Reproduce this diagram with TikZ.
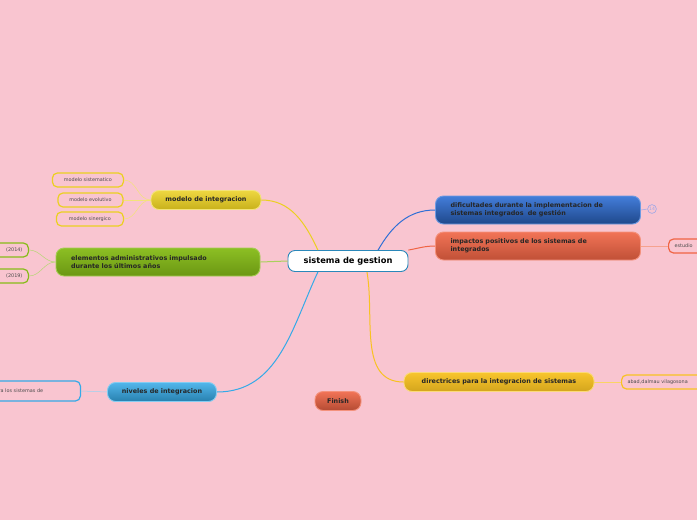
\documentclass[tikz,border=0pt]{standalone}
\usepackage{fontspec}
\setmainfont{DejaVu Sans}
\usetikzlibrary{positioning}
\definecolor{bgpink}{HTML}{F9C5D0}
\definecolor{ylw}{HTML}{EBD020}
\definecolor{grn}{HTML}{86BC18}
\definecolor{sky}{HTML}{34AAE8}
\definecolor{navy}{HTML}{2F6FD6}
\definecolor{rust}{HTML}{F06444}
\definecolor{amber}{HTML}{F8C222}
\definecolor{lav}{HTML}{9AA6E8}
\tikzset{
  topic/.style={draw, rounded corners=8pt, font=\bfseries\fontsize{6.4}{7.6}\selectfont, text=black!85,
                inner xsep=10pt, inner ysep=2pt, minimum height=19pt, line width=0.9pt},
  wide/.style={text width=#1, align=left, minimum height=28pt, inner xsep=15pt},
  sub/.style={draw=#1, rounded corners=5pt, font=\fontsize{4.9}{5.8}\selectfont, text=black!70,
              minimum height=14pt, inner xsep=6pt, line width=1.2pt},
  trunk/.style={draw=#1, line width=1pt},
  twig/.style={draw=#1, line width=0.5pt}
}
\begin{document}
\begin{tikzpicture}[x=1pt, y=-1pt]
\fill[bgpink] (0,0) rectangle (697,520);
\useasboundingbox (0,0) rectangle (697,520);
% center and main topics
\node[draw=sky!80!black, fill=white, rounded corners=7pt, line width=0.9pt, font=\bfseries\fontsize{8.3}{9}\selectfont,
      minimum width=120pt, minimum height=21pt] (gestion) at (348,261) {sistema de gestion};
\node[topic, top color=ylw!85!white, bottom color=ylw!85!black, draw=ylw!60!white, minimum width=110pt] (modelo) at (206,200) {modelo de integracion};
\node[topic, wide=174pt, top color=grn!95!white, bottom color=grn!80!black, draw=grn!75!white] (elementos) at (158,262) {elementos administrativos impulsado\\durante los últimos años};
\node[topic, top color=sky!85!white, bottom color=sky!75!black, draw=sky!60!white, minimum width=109pt] (niveles) at (162,392) {niveles de integracion};
\node[topic, wide=175pt, top color=navy!90!white, bottom color=navy!65!black, draw=navy!70!white] (dificultades) at (538,210) {dificultades durante la implementacion de\\sistemas integrados \ de gestión};
\node[topic, wide=175pt, top color=rust!90!white, bottom color=rust!80!black, draw=rust!70!white] (impactos) at (538,246) {impactos positivos de los sistemas de\\integrados};
\node[topic, top color=amber!95!white, bottom color=amber!85!black, draw=amber!60!white, minimum width=190pt] (directrices) at (499,382) {directrices para la integracion de sistemas};
\node[topic, top color=rust!90!white, bottom color=rust!75!black, draw=rust!70!white, minimum width=46pt, inner xsep=4pt] (finish) at (338,401) {Finish};
% sub topics
\node[sub=ylw, minimum width=65pt, left=27pt of modelo] (evolutivo) {modelo evolutivo};
\node[sub=ylw, minimum width=71pt, anchor=east] (sistematico) at (124,180) {modelo sistematico};
\node[sub=ylw, minimum width=67pt, anchor=east] (sinergico) at (124,219) {modelo sinergico};
\node[sub=grn, text width=50pt, align=right, anchor=east] (y2014) at (29,250) {(2014)};
\node[sub=grn, text width=50pt, align=right, anchor=east] (y2019) at (29,276) {(2019)};
\node[sub=sky, text width=82pt, align=left, minimum height=20pt, anchor=east] (nivdesc) at (81,391) {para los sistemas de};
\node[sub=rust, text width=60pt, align=left, anchor=west] (estudio) at (668,246) {estudio};
\node[sub=amber, text width=90pt, align=left, anchor=west] (abad) at (621,382) {abad,dalmau vilagosona};
\node[draw=lav, circle, line width=0.6pt, inner sep=0.8pt, text=lav, font=\fontsize{4.5}{5}\selectfont] (cnt) at (652,209) {14};
% trunks
\draw[trunk=ylw] (gestion.160) to[out=115, in=0] (modelo.east);
\draw[trunk=grn!70!white] (gestion.west) -- (elementos.east);
\draw[trunk=sky] (gestion.200) to[out=245, in=0] (niveles.east);
\draw[trunk=navy] (gestion.20) to[out=60, in=180] (dificultades.west);
\draw[trunk=rust] (gestion.north east) to[out=10, in=180] (impactos.west);
\draw[trunk=amber] (gestion.-30) to[out=-80, in=180] (directrices.west);
% twigs
\draw[twig=ylw!60!white] (modelo.west) to[out=180, in=0] (sistematico.east);
\draw[twig=ylw!60!white] (modelo.west) -- (evolutivo.east);
\draw[twig=ylw!60!white] (modelo.west) to[out=180, in=0] (sinergico.east);
\draw[twig=grn!60!white] (elementos.west) to[out=180, in=0] (y2014.east);
\draw[twig=grn!60!white] (elementos.west) to[out=180, in=0] (y2019.east);
\draw[twig=sky!50!white] (niveles.west) -- (nivdesc.east);
\draw[twig=rust!60!white] (impactos.east) -- (estudio.west);
\draw[twig=amber!70!white] (directrices.east) -- (abad.west);
\draw[twig=lav] (dificultades.east) -- (cnt.west);
\end{tikzpicture}
\end{document}
